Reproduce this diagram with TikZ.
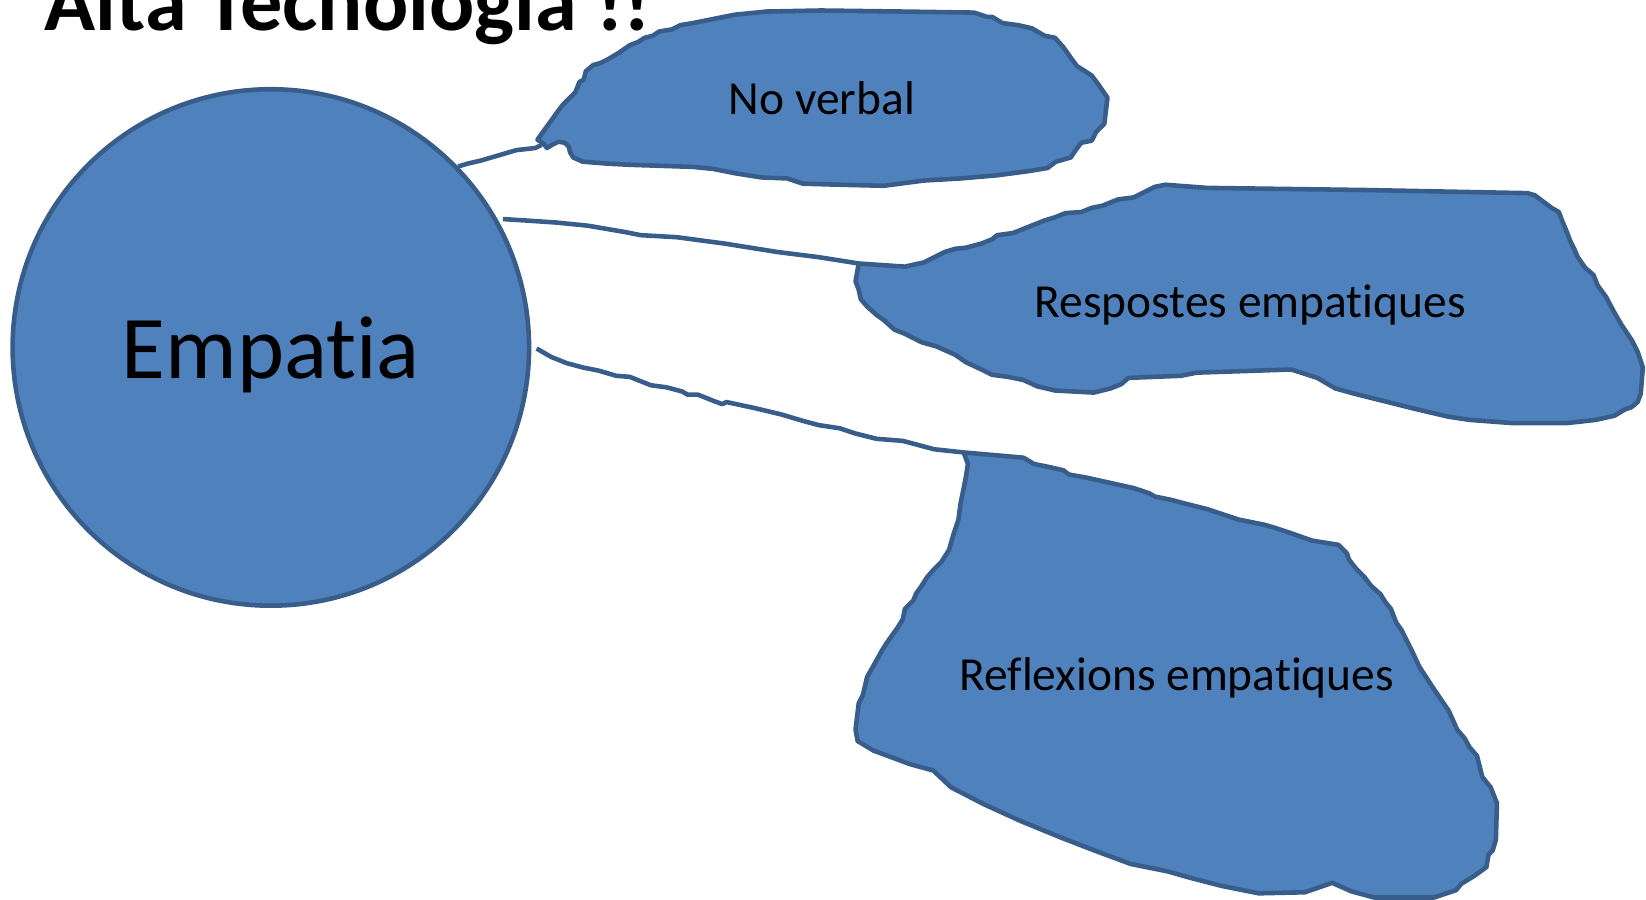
\documentclass[tikz,border=0pt]{standalone}
\usepackage{fontspec}
\setmainfont{Carlito}[Ligatures=NoCommon]
\usepackage{tikz}
\usetikzlibrary{positioning}
\definecolor{fonsblau}{HTML}{4F81BD}
\definecolor{vorablau}{HTML}{385D8A}

\begin{document}
\begin{tikzpicture}[
  x=0.010497cm,
  y=-0.010497cm,
  line join=round,
  cercle/.style={circle, draw=vorablau, fill=fonsblau, line width=1.3pt, minimum size=5.165cm, inner sep=0pt, font=\fontsize{25.5}{30}\selectfont},
  nuvol/.style={draw=vorablau, fill=fonsblau, line width=1.3pt},
  etiqueta/.style={font=\fontsize{13.5}{16}\selectfont, inner sep=0pt},
  enllac/.style={draw=vorablau, line width=1.3pt}
]
  \useasboundingbox (0,0) rectangle (1568,857);

  %=======================================

  % titol
  \node[anchor=base west, inner sep=0pt, font=\fontsize{24}{28}\selectfont\bfseries] (titol) at (42,29.5) {Alta Tecnologia !!};

  % cercle central
  \node[cercle] (empatia) at (258,331) {\raisebox{-8.7pt}[0pt][0pt]{Empatia}};

  % No verbal
  \coordinate (nvPunta) at (516,138);
  \draw[nuvol] (512,133) -- (530,108) -- (536,100) -- (548,88) -- (552,78) -- (556,76) -- (558,68) -- (565,62) -- (572,60) -- (580,56) -- (590,50) -- (600,43) -- (608,40) -- (614,36) -- (622,34) -- (628,30) -- (640,28) -- (648,24) -- (660,22) -- (680,18) -- (700,14) -- (730,11) -- (782,10) -- (860,11) -- (928,12) -- (940,16) -- (945,16) -- (955,22) -- (970,24) -- (983,27) -- (995,34) -- (1005,36) -- (1013,45) -- (1020,55) -- (1026,63) -- (1034,68) -- (1040,72) -- (1046,80) -- (1055,93) -- (1052,118) -- (1048,122) -- (1044,126) -- (1040,134) -- (1030,136) -- (1024,144) -- (1020,150) -- (1006,154) -- (998,160) -- (980,163) -- (950,167) -- (915,170) -- (880,172) -- (842,177) -- (800,176) -- (765,175) -- (750,170) -- (725,169) -- (700,165) -- (680,161) -- (660,159) -- (600,157) -- (580,156) -- (555,154) -- (546,150) -- (543,145) -- (542,140) -- (538,136) -- (532,135) -- (526,138) -- (521,141) -- (518,137) -- cycle;
  \node[etiqueta] (noverbal) at (783,94) {No verbal};

  % Respostes empatiques
  \coordinate (rePunta) at (818,251);
  \draw[nuvol] (818,251) -- (862,254) -- (880,250) -- (888,246) -- (900,240) -- (910,237) -- (920,236) -- (935,232) -- (945,228) -- (950,224) -- (965,222) -- (975,218) -- (985,214) -- (995,210) -- (1005,207) -- (1015,203) -- (1030,202) -- (1040,198) -- (1050,196) -- (1065,190) -- (1080,188) -- (1090,183) -- (1100,178) -- (1110,176) -- (1150,179) -- (1300,181) -- (1455,184) -- (1462,186) -- (1470,192) -- (1478,198) -- (1485,202) -- (1488,210) -- (1493,222) -- (1496,230) -- (1500,238) -- (1503,245) -- (1510,255) -- (1518,262) -- (1522,272) -- (1530,283) -- (1538,298) -- (1545,310) -- (1555,325) -- (1560,335) -- (1565,350) -- (1563,375) -- (1560,383) -- (1554,388) -- (1548,390) -- (1538,396) -- (1520,400) -- (1493,403) -- (1440,403) -- (1400,400) -- (1380,397) -- (1350,390) -- (1310,380) -- (1290,375) -- (1272,370) -- (1255,360) -- (1230,352) -- (1140,355) -- (1125,358) -- (1075,360) -- (1068,366) -- (1058,370) -- (1042,374) -- (1005,372) -- (988,368) -- (975,362) -- (960,359) -- (945,357) -- (935,352) -- (920,345) -- (910,338) -- (892,330) -- (878,326) -- (870,322) -- (862,318) -- (852,314) -- (842,305) -- (835,300) -- (826,292) -- (820,285) -- (818,276) -- (815,268) -- cycle;
  \node[etiqueta] (respostes) at (1191,291) {Respostes empatiques};

  % Reflexions empatiques
  \coordinate (rfPunta) at (918,431);
  \draw[nuvol] (918,431) -- (975,436) -- (985,442) -- (1000,445) -- (1013,448) -- (1018,452) -- (1035,455) -- (1080,465) -- (1095,470) -- (1100,473) -- (1115,476) -- (1130,480) -- (1150,485) -- (1165,490) -- (1180,495) -- (1195,498) -- (1205,500) -- (1215,503) -- (1230,508) -- (1250,515) -- (1275,519) -- (1283,527) -- (1285,533) -- (1292,542) -- (1300,550) -- (1306,558) -- (1315,566) -- (1320,574) -- (1325,580) -- (1330,593) -- (1335,600) -- (1345,620) -- (1352,635) -- (1365,655) -- (1380,677) -- (1385,688) -- (1388,695) -- (1395,703) -- (1400,712) -- (1407,720) -- (1412,740) -- (1420,750) -- (1426,765) -- (1425,800) -- (1422,810) -- (1418,814) -- (1416,826) -- (1405,834) -- (1392,842) -- (1387,848) -- (1366,855) -- (1309,855) -- (1287,849) -- (1269,841) -- (1243,850) -- (1199,851) -- (1164,844) -- (1133,836) -- (1112,830) -- (1077,823) -- (1042,810) -- (1011,798) -- (972,782) -- (937,766) -- (906,750) -- (889,734) -- (867,728) -- (832,715) -- (817,706) -- (815,695) -- (818,670) -- (822,662) -- (826,645) -- (840,620) -- (845,612) -- (855,598) -- (860,590) -- (862,580) -- (870,572) -- (873,565) -- (878,558) -- (883,550) -- (890,542) -- (897,535) -- (904,524) -- (908,510) -- (913,495) -- (915,480) -- (918,465) -- (920,455) -- (922,442) -- cycle;
  \node[etiqueta] (reflexions) at (1121,646) {Reflexions empatiques};

  % enllacos
  \draw[enllac] (empatia.44) -- (445,156) -- (458,153) -- (475,148) -- (492,143) -- (510,141) -- (nvPunta);
  \draw[enllac] (empatia.29) ++(4,-2) -- (500,210) -- (530,212) -- (560,215) -- (595,221) -- (610,224) -- (645,226) -- (690,232) -- (740,240) -- (780,245) -- (rePunta);
  \draw[enllac] (empatia.0) ++(5,1) -- (525,340) -- (540,346) -- (555,350) -- (570,353) -- (587,358) -- (600,359) -- (620,367) -- (635,369) -- (650,373) -- (655,376) -- (665,376) -- (680,382) -- (688,385) -- (692,383) -- (720,389) -- (745,395) -- (765,401) -- (780,405) -- (800,408) -- (815,413) -- (835,418) -- (860,420) -- (890,428) -- (rfPunta);

  %=======================================

\end{tikzpicture}
\end{document}
